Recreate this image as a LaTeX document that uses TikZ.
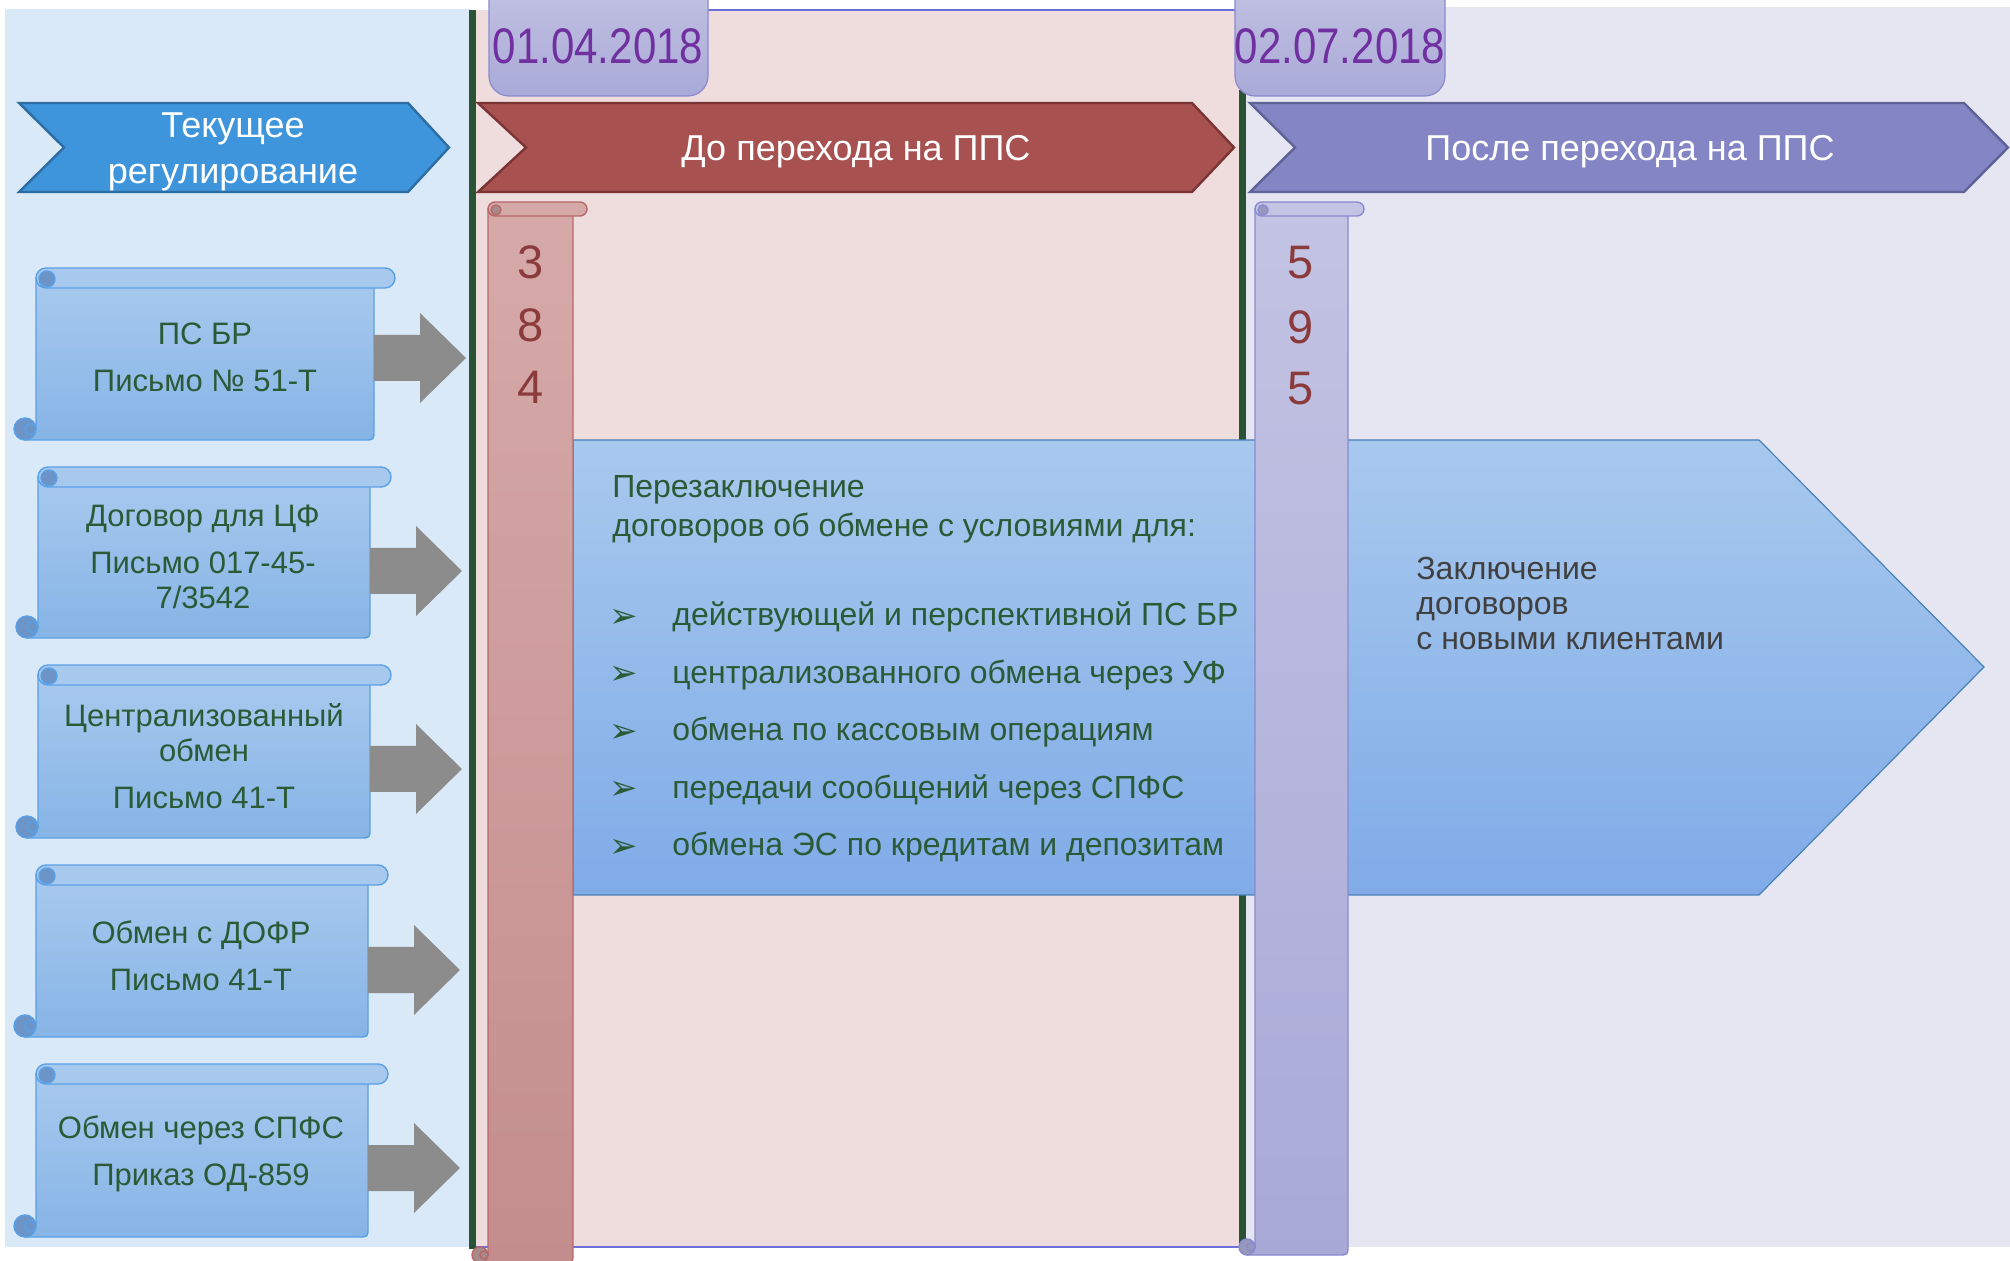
\documentclass[tikz,border=0pt]{standalone}
\usepackage{fontspec}
\setmainfont{Liberation Sans}
\newfontfamily\dingfont{DejaVu Sans}
\usepackage{graphicx}
\usetikzlibrary{calc, positioning}

\definecolor{leftbg}{HTML}{DAE9F7}
\definecolor{midbg}{HTML}{EFDDDD}
\definecolor{rightbg}{HTML}{E6E6F2}
\definecolor{darkgreen}{HTML}{2A5234}
\definecolor{textgreen}{HTML}{2B5A37}
\definecolor{datepurple}{HTML}{7030A0}
\definecolor{digitred}{HTML}{8B3B3B}
\definecolor{arrowgray}{HTML}{8C8C8C}
\definecolor{chevblue}{HTML}{3E95DB}
\definecolor{chevblueedge}{HTML}{2D6DA3}
\definecolor{chevred}{HTML}{A85151}
\definecolor{chevrededge}{HTML}{7B3434}
\definecolor{chevlav}{HTML}{8385C4}
\definecolor{chevlavedge}{HTML}{5F6197}
\definecolor{bluetop}{HTML}{A8C9EE}
\definecolor{bluebot}{HTML}{86B4E6}
\definecolor{blueedge}{HTML}{5AA0E6}
\definecolor{bluecurl}{HTML}{6D94C6}
\definecolor{redtop}{HTML}{D6A9A9}
\definecolor{redbot}{HTML}{C48D8D}
\definecolor{rededge}{HTML}{B86868}
\definecolor{redcurl}{HTML}{A88A8A}
\definecolor{lavtop}{HTML}{C3C3E3}
\definecolor{lavbot}{HTML}{A9A9D8}
\definecolor{lavedge}{HTML}{8A8AD0}
\definecolor{lavcurl}{HTML}{9898BC}
\definecolor{greytext}{HTML}{404040}

\tikzset{
  separator/.style={draw=darkgreen, line width=3.5pt},
  panelline/.style={draw=lavedge!80!blue, line width=0.6pt},
  datebox/.style={top color=lavtop, bottom color=lavbot, draw=lavedge, line width=0.6pt, rounded corners=10pt},
  datetext/.style={text=datepurple, font=\fontsize{25}{28}\selectfont},
  bluechev/.style={fill=chevblue, draw=chevblueedge, line width=1.2pt},
  redchev/.style={fill=chevred, draw=chevrededge, line width=1.2pt},
  lavchev/.style={fill=chevlav, draw=chevlavedge, line width=1.2pt},
  chevtext/.style={text=white, font=\fontsize{18}{23}\selectfont, align=center},
  blockarrow/.style={fill=arrowgray},
  scrolltext/.style={text=textgreen, font=\fontsize{15.5}{17.5}\selectfont, align=center},
  contentbox/.style={top color=bluetop, bottom color=bluebot!95!blue, draw=blueedge!80!black, line width=0.6pt},
  boxtext/.style={text=textgreen, font=\fontsize{16}{19.5}\selectfont, align=left, inner sep=0pt},
  itemtext/.style={text=textgreen, font=\fontsize{16}{19.5}\selectfont, text height=1.5ex, text depth=.25ex, inner sep=0pt},
  bulletmark/.style={text=textgreen, font=\dingfont\fontsize{17}{19}\selectfont, inner sep=0pt},
  digit/.style={text=digitred, font=\fontsize{23.5}{26}\selectfont},
  greytextnode/.style={text=greytext, font=\fontsize{16}{17.5}\selectfont, align=left, inner sep=0pt},
  blue body/.style={top color=bluetop, bottom color=bluebot, draw=blueedge, line width=0.7pt},
  blue bar/.style={fill=bluetop, draw=blueedge, line width=0.7pt},
  blue curl/.style={fill=bluecurl, draw=blueedge, line width=0.7pt},
  blue edge/.style={draw=blueedge, line width=0.7pt},
  red body/.style={top color=redtop, bottom color=redbot, draw=rededge, line width=0.7pt},
  red bar/.style={fill=redtop, draw=rededge, line width=0.7pt},
  red curl/.style={fill=redcurl, draw=rededge, line width=0.7pt},
  red edge/.style={draw=rededge, line width=0.7pt},
  lav body/.style={top color=lavtop, bottom color=lavbot, draw=lavedge, line width=0.7pt},
  lav bar/.style={fill=lavtop, draw=lavedge, line width=0.7pt},
  lav curl/.style={fill=lavcurl, draw=lavedge, line width=0.7pt},
  lav edge/.style={draw=lavedge, line width=0.7pt},
}

% scroll: left, right, bar right, bar top, bottom, palette, bar height
\newcommand{\scrollshape}[7]{%
  \draw[#6 body] (#1,#4+#7/2) -- (#2,#4+#7/2) -- (#2,#5-10) .. controls (#2,#5) .. (#2-10,#5)
     -- ({#1-#7/2-1},#5) -- ({#1-#7/2-1},{#5-#7/2-1}) -- (#1,{#5-#7/2-1}) -- cycle;
  \draw[#6 bar, rounded corners={#7*0.25pt}] (#1,#4) rectangle (#3,#4+#7);
  \draw[#6 curl] ({#1+#7/2+1},{#4+#7/2+1}) circle[radius={#7/2-2}];
  \draw[#6 curl] ({#1-#7/2-1},{#5-#7/2-1}) circle[radius={#7/2+1}];
  \draw[#6 edge] ({#1-#7/4-0.5},{#5-#7/2-1}) circle[radius={#7/4+0.5}];
}

\begin{document}
\begin{tikzpicture}[x=0.5pt, y=-0.5pt]
  \useasboundingbox (0,0) rectangle (2010,1261);
  \clip (0,0) rectangle (2010,1261);

  % Add background panels
  \fill[leftbg] (5,9) rectangle (472,1247);
  \fill[midbg] (472,10) rectangle (1242,1247);
  \fill[rightbg] (1242,7) rectangle (2010,1247);
  \draw[panelline] (700,10) -- (1240,10);
  \draw[panelline] (472,1247) -- (1242,1247);

  % Add green separators
  \draw[separator] (472,10) -- (472,1249);
  \draw[separator] (1242,90) -- (1242,1249);

  % Add date boxes
  \draw[datebox] (489,-20) rectangle (708,96);
  \draw[datebox] (1235,-20) rectangle (1445,96);
  \node[datetext] (d1) at (598,46) {\scalebox{0.84}[1]{01.04.2018}};
  \node[datetext] (d2) at (1340,46) {\scalebox{0.84}[1]{02.07.2018}};

  % Add header chevrons
  \foreach \xl/\xn/\xs/\xt/\kind in {19/64/408/449/bluechev, 478/526/1192/1234/redchev, 1250/1295/1964/2008/lavchev} {
      \draw[\kind] (\xl,103) -- (\xs,103) -- (\xt,147.5) -- (\xs,192) -- (\xl,192) -- (\xn,147.5) -- cycle;
  }
  \node[chevtext] (current) at (233,152) {Текущее\\регулирование};
  \node[chevtext] (before) at (856,152) {До перехода на ППС};
  \node[chevtext] (after) at (1630,152) {После перехода на ППС};

  % Add scrolls on the left
  \foreach \xa/\xb/\xc/\yt/\yb in {36/374/395/268/440, 38/370/391/467/638, 38/370/391/665/838, 36/368/388/865/1037, 36/368/388/1064/1237} {
      \scrollshape{\xa}{\xb}{\xc}{\yt}{\yb}{blue}{20}
  }

  % Add grey arrows
  \foreach \xs/\ym in {374/358, 370/571, 370/769, 368/970, 368/1168} {
      \fill[blockarrow] (\xs,\ym-23) -- (\xs+46,\ym-23) -- (\xs+46,\ym-45) -- (\xs+92,\ym)
          -- (\xs+46,\ym+45) -- (\xs+46,\ym+23) -- (\xs,\ym+23) -- cycle;
  }

  \node[scrolltext] (psbr) at (205,357) {ПС БР\\[6pt]Письмо №~51-Т};
  \node[scrolltext] (cf) at (203,557) {Договор для ЦФ\\[6pt]Письмо 017-45-\\7/3542};
  \node[scrolltext] (central) at (204,756) {Централизованный\\обмен\\[6pt]Письмо 41-Т};
  \node[scrolltext] (dofr) at (201,956) {Обмен с ДОФР\\[6pt]Письмо 41-Т};
  \node[scrolltext] (spfs) at (201,1154) {Обмен через СПФС\\[6pt]Приказ ОД-859};

  % Add blue box with the big arrow
  \draw[contentbox] (573,440) -- (1759,440) -- (1984,667) -- (1759,895) -- (573,895) -- cycle;

  % Add tall scrolls with numbers
  \scrollshape{488}{573}{587}{202}{1263}{red}{14}
  \scrollshape{1255}{1348}{1364}{202}{1255}{lav}{14}
  \foreach \d/\y [count=\i] in {3/262, 8/325, 4/387} {
      \node[digit] (r\i) at (531,\y) {\d};
  }
  \foreach \d/\y [count=\i] in {5/263, 9/327, 5/389} {
      \node[digit] (l\i) at (1301,\y) {\d};
  }

  % Add text on the blue box
  \node[boxtext, anchor=west] (renew) at (612,509) {Перезаключение\\договоров об обмене с условиями для:};
  \foreach \t [count=\i] in {действующей и перспективной ПС БР, централизованного обмена через УФ, обмена по кассовым операциям, передачи сообщений через СПФС, обмена ЭС по кредитам и депозитам} {
      \node[bulletmark] (b\i) at (624,{618+(\i-1)*57.5}) {➢};
      \node[itemtext, anchor=west] (item\i) at (672,{619+(\i-1)*57.5}) {\t};
  }
  \node[greytextnode, anchor=west] (newcl) at (1416,603) {Заключение\\договоров\\с новыми клиентами};
\end{tikzpicture}
\end{document}
